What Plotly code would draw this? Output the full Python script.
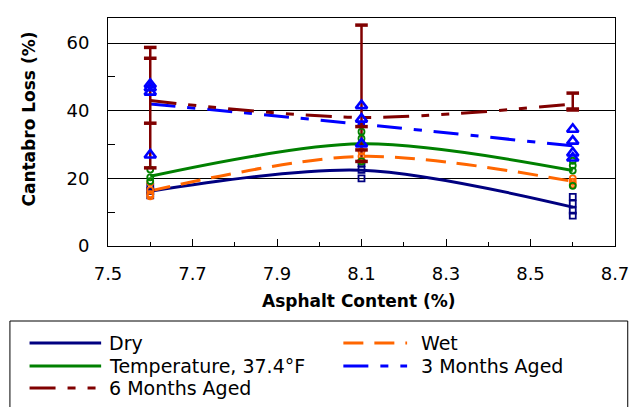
import plotly.graph_objects as go

# Asphalt content levels tested (%)
asphalt = [7.6, 8.1, 8.6]

# Cantabro loss of each replicate specimen (%), per asphalt content
dry_reps = [[17.5, 16.2, 15.0], [24.5, 22.5, 20.0], [14.5, 12.5, 10.5, 9.0]]
wet_reps = [[18.8, 16.5, 15.3, 14.7], [28.0, 26.5, 25.2], [20.0, 19.0, 18.2]]
temp_reps = [[22.6, 20.3, 19.2], [33.8, 31.8, 25.0], [25.2, 23.8, 22.3, 17.8]]
aged3_reps = [[47.8, 46.8, 45.5, 26.9], [41.5, 37.5, 30.2], [34.5, 31.0, 27.5, 26.0]]
aged6_reps = [[58.7, 55.5, 36.3, 23.1], [65.3, 35.3, 28.4, 25.0], [45.2, 40.5, 40.2]]

# Average Cantabro loss curves (%)
dry_avg = [16.2, 22.4, 11.5]
wet_avg = [16.3, 26.5, 19.1]
temp_avg = [20.6, 30.2, 22.3]
aged3_avg = [42.0, 36.0, 29.6]
aged6_avg = [43.0, 38.0, 42.0]

series_names = ["Dry", "Wet", "Temperature, 37.4°F", "3 Months Aged", "6 Months Aged"]

x_ticks = [7.5, 7.7, 7.9, 8.1, 8.3, 8.5, 8.7]
y_ticks = [0, 20, 40, 60]

FONT = "DejaVu Sans"
NAVY, ORANGE, GREEN, BLUE, MAROON = "#000080", "#FF6600", "#008000", "#0000FF", "#800000"

styles = [
    dict(color=NAVY, dash="solid", symbol="square-open", size=6, mlw=1.8),
    dict(color=ORANGE, dash="20px,11px", symbol="circle-open", size=6, mlw=1.8),
    dict(color=GREEN, dash="solid", symbol="circle-open", size=6, mlw=1.8),
    dict(color=BLUE, dash="25px,12px,8px,12px", symbol="triangle-up-open", size=10, mlw=2.6),
    dict(color=MAROON, dash="26px,12px,8px,12px,8px,12px", symbol="line-ew-open", size=9, mlw=3.5),
]
avgs = [dry_avg, wet_avg, temp_avg, aged3_avg, aged6_avg]
reps = [dry_reps, wet_reps, temp_reps, aged3_reps, aged6_reps]


def flatten(rep_lists):
    xs, ys = [], []
    for xv, vals in zip(asphalt, rep_lists):
        xs += [xv] * len(vals)
        ys += vals
    return xs, ys


fig = go.Figure()

# Smoothed average curves
for name, avg, st in zip(series_names, avgs, styles):
    fig.add_trace(go.Scatter(
        x=asphalt, y=avg, mode="lines", name=name, showlegend=False,
        line=dict(color=st["color"], width=3, dash=st["dash"], shape="spline", smoothing=0.9),
        hoverinfo="skip",
    ))

# Range line through the 6-month replicates at each asphalt content
rx, ry = [], []
for xv, vals in zip(asphalt, aged6_reps):
    rx += [xv, xv, None]
    ry += [min(vals), max(vals), None]
fig.add_trace(go.Scatter(x=rx, y=ry, mode="lines", showlegend=False,
                         line=dict(color=MAROON, width=2.5), hoverinfo="skip"))

# Individual replicate results
for name, rep, st in zip(series_names, reps, styles):
    xs, ys = flatten(rep)
    fig.add_trace(go.Scatter(
        x=xs, y=ys, mode="markers", name=name, showlegend=False,
        marker=dict(symbol=st["symbol"], size=st["size"], color=st["color"],
                    line=dict(color=st["color"], width=st["mlw"])),
    ))

# Plot area geometry in pixels, used to place the legend and titles
W, H = 641, 407
L, R, T, B = 108, 16, 18, 161
pw, ph = W - L - R, H - T - B


def px(x):
    return (x - L) / pw


def py(y):
    return (H - B - y) / ph


shapes = [dict(type="rect", xref="paper", yref="paper",
               x0=px(8), x1=px(638), y0=py(415), y1=py(321),
               line=dict(color="black", width=1), fillcolor="white", layer="below")]
annotations = []

# Legend laid out in two columns
legend_pos = [(28, 101, 107, 343), (348, 413, 425, 343),
              (28, 101, 107, 366), (348, 413, 425, 366),
              (28, 98, 107, 388)]
for name, st, (lx0, lx1, tx, ly) in zip(series_names, styles, legend_pos):
    shapes.append(dict(type="line", xref="paper", yref="paper",
                       x0=px(lx0), x1=px(lx1), y0=py(ly), y1=py(ly),
                       line=dict(color=st["color"], width=3, dash=st["dash"])))
    annotations.append(dict(xref="paper", yref="paper", x=px(tx), y=py(ly),
                            text=name, showarrow=False, xanchor="left", yanchor="middle",
                            font=dict(family=FONT, size=19, color="black")))

# Axis titles
annotations.append(dict(xref="paper", yref="paper", x=px(364), y=py(301),
                        text="Asphalt Content (%)", showarrow=False,
                        xanchor="center", yanchor="middle",
                        font=dict(family=FONT, size=17, color="black", weight="bold")))
annotations.append(dict(xref="paper", yref="paper", x=px(27), y=py(119),
                        text="Cantabro Loss (%)", showarrow=False, textangle=-90,
                        xanchor="center", yanchor="middle",
                        font=dict(family=FONT, size=17, color="black", weight="bold")))

fig.update_layout(
    width=W, height=H,
    margin=dict(l=L, r=R, t=T, b=B, pad=0),
    paper_bgcolor="white", plot_bgcolor="white",
    showlegend=False,
    font=dict(family=FONT, size=18, color="black"),
    shapes=shapes, annotations=annotations,
    xaxis=dict(
        range=[7.5, 8.7], tickvals=x_ticks, tickformat=".1f",
        showgrid=False, zeroline=False,
        showline=True, linecolor="black", linewidth=1, mirror=True,
        ticks="inside", ticklen=7, tickcolor="black",
        minor=dict(dtick=0.1, tick0=7.5, ticks="inside", ticklen=4, tickcolor="black"),
        ticklabelstandoff=11,
        tickfont=dict(family=FONT, size=18, color="black"),
    ),
    yaxis=dict(
        range=[0, 67.4], tickvals=y_ticks,
        showgrid=True, gridcolor="black", gridwidth=1, zeroline=False,
        showline=True, linecolor="black", linewidth=1, mirror=True,
        ticks="inside", ticklen=7, tickcolor="black",
        minor=dict(dtick=10, tick0=0, ticks="inside", ticklen=7, tickcolor="black"),
        ticklabelstandoff=14,
        tickfont=dict(family=FONT, size=18, color="black"),
    ),
)

fig.write_html("out.html")
